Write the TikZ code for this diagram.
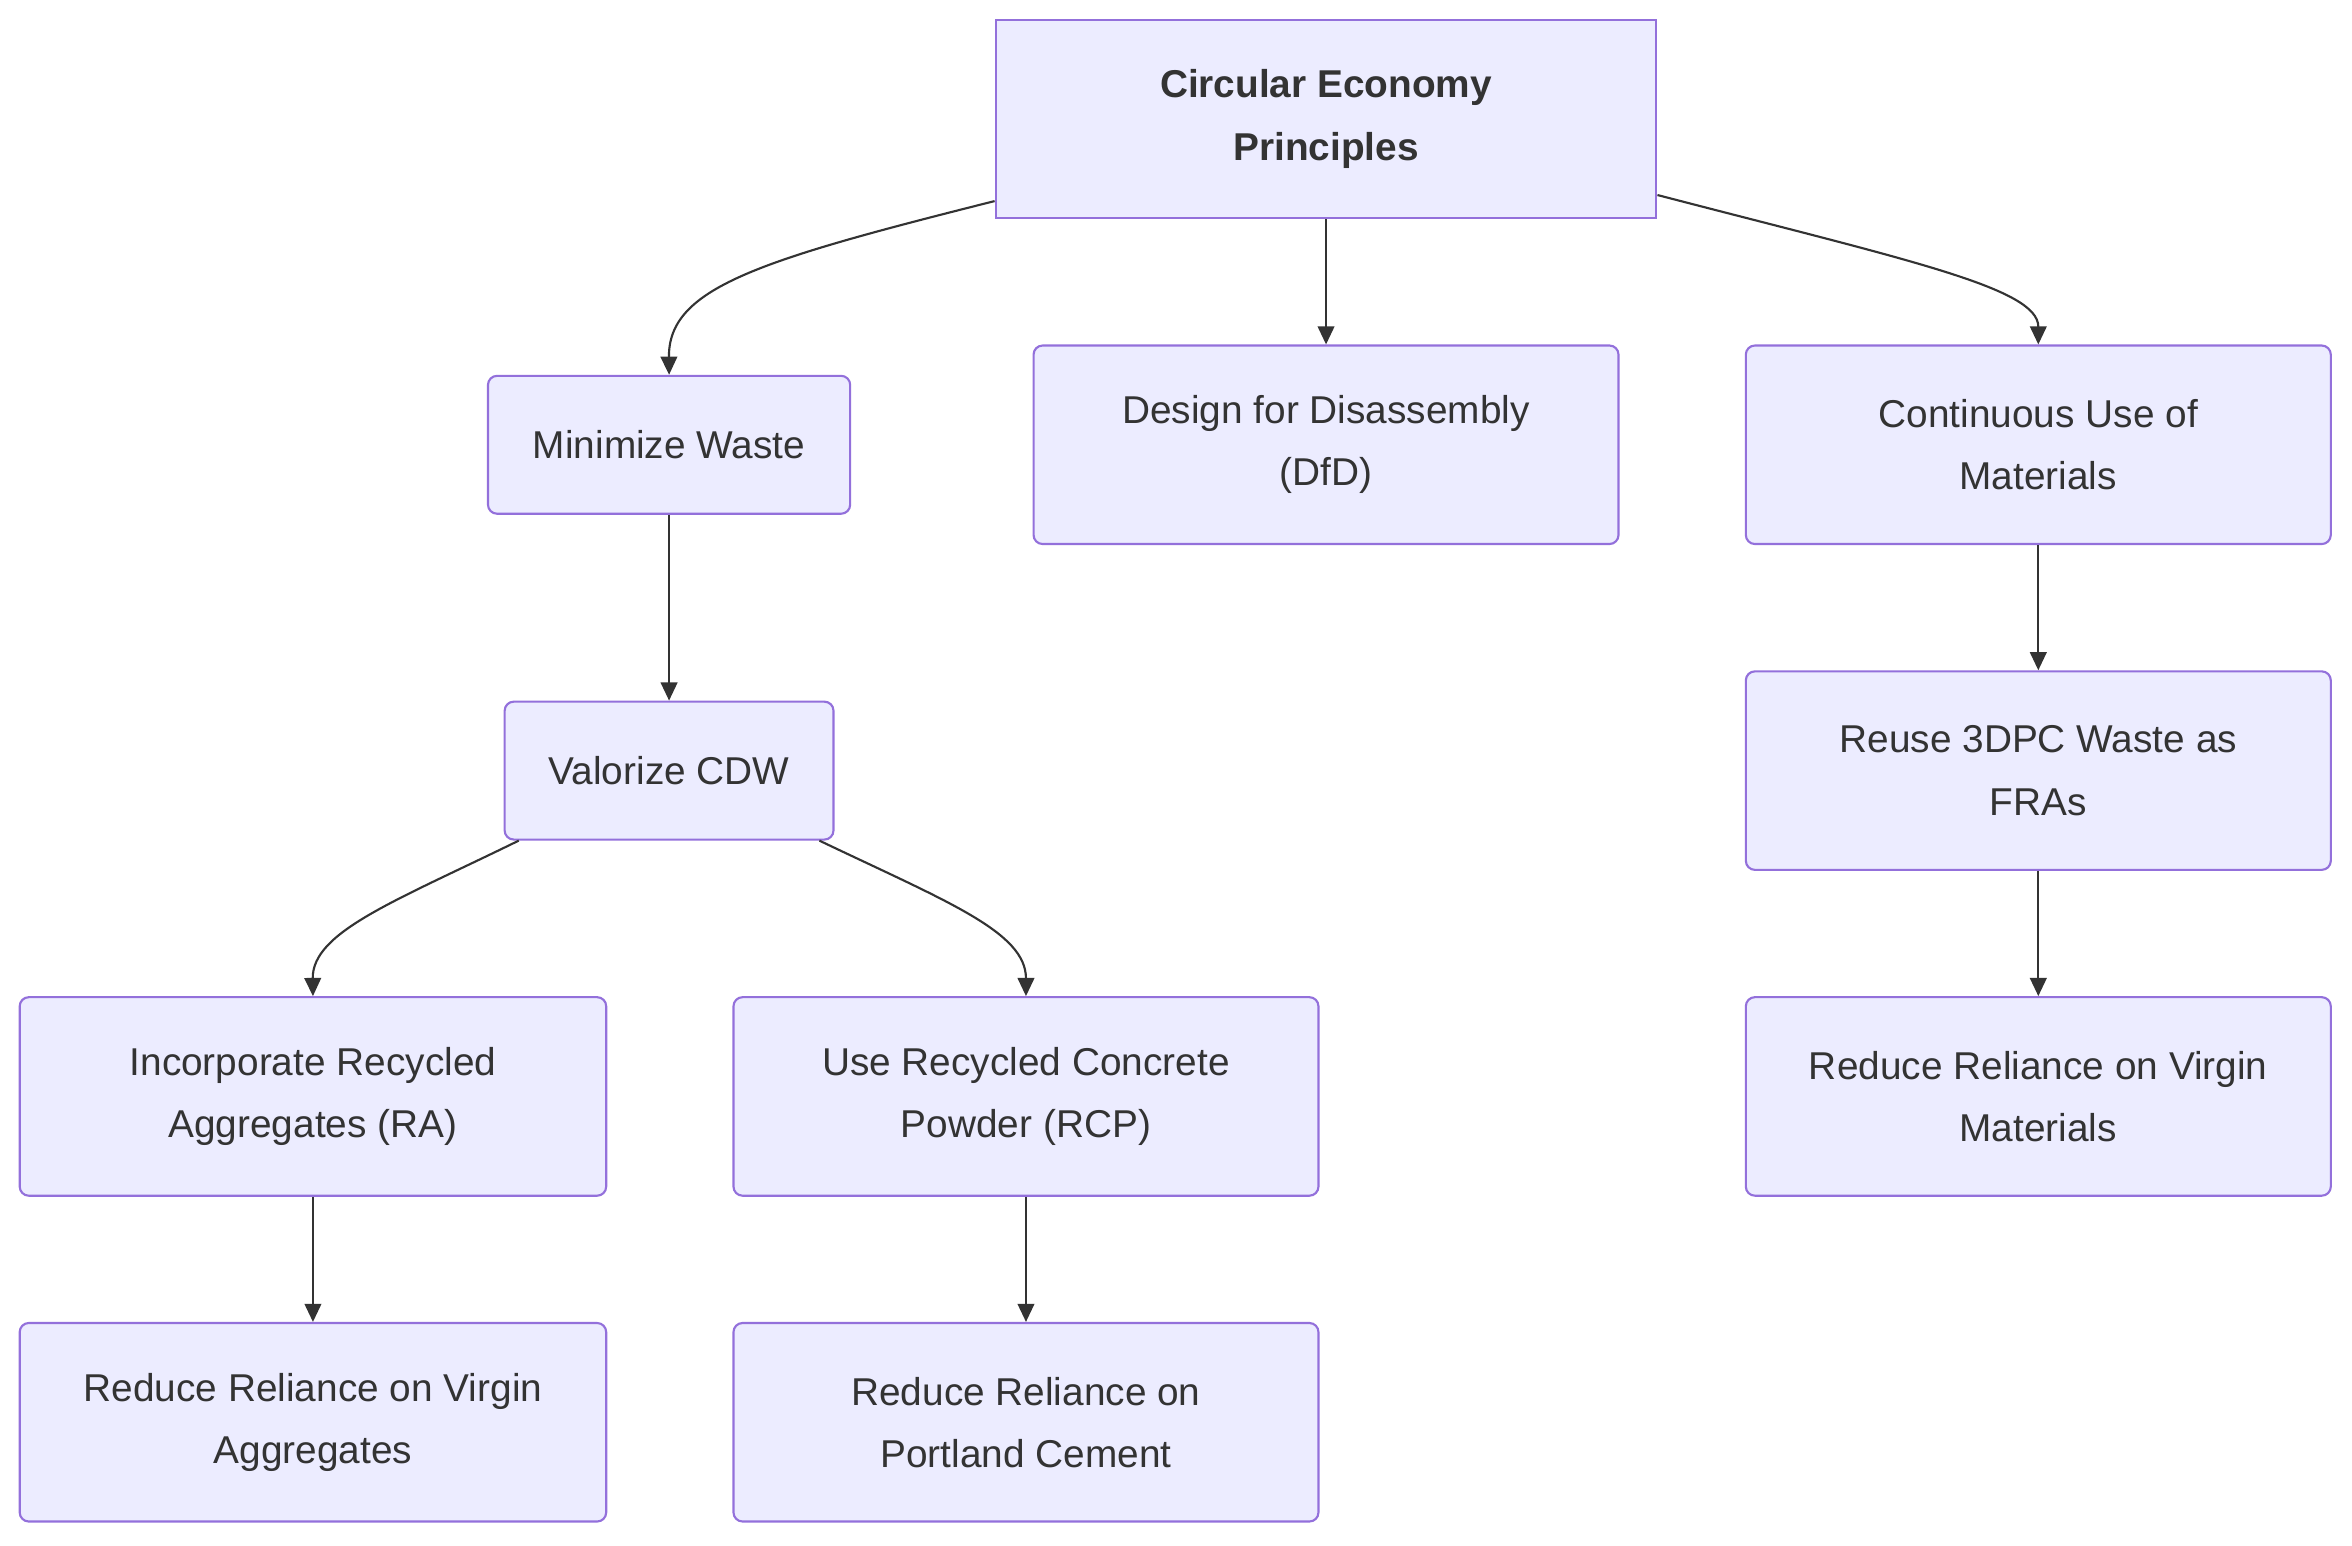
\documentclass[tikz,border=0pt]{standalone}
\usepackage{fontspec}
\setmainfont{Liberation Sans}
\usetikzlibrary{arrows.meta}
\definecolor{nfill}{HTML}{ECECFF}
\definecolor{nline}{HTML}{9370DB}
\definecolor{tcol}{HTML}{333333}
\begin{document}
\begin{tikzpicture}[x=0.5pt,y=-0.5pt,
  box/.style={draw=nline,fill=nfill,line width=0.7pt,rounded corners=3pt,text=tcol,align=center,font=\fontsize{12.8}{20.5}\selectfont,inner sep=0pt},
  arr/.style={draw=tcol,line width=0.7pt,-{Triangle[length=6pt,width=5.5pt]}}]
\useasboundingbox (0,0) rectangle (1552,1020);
\node[box,rounded corners=0pt,minimum width=218pt,minimum height=65.5pt,font=\bfseries\fontsize{12.8}{20.5}\selectfont] (top) at (875,78.5) {Circular Economy\\Principles};
\node[box,minimum width=119.5pt,minimum height=45.5pt] (mw) at (441.5,293.5) {Minimize Waste};
\node[box,minimum width=193pt,minimum height=65.5pt] (dfd) at (875,293.5) {Design for Disassembly\\(DfD)};
\node[box,minimum width=193pt,minimum height=65.5pt] (cu) at (1345,293.5) {Continuous Use of\\Materials};
\node[box,minimum width=108.5pt,minimum height=45.5pt] (vc) at (441.5,508.5) {Valorize CDW};
\node[box,minimum width=193pt,minimum height=65.5pt] (ru) at (1345,508.5) {Reuse 3DPC Waste as\\FRAs};
\node[box,minimum width=193.5pt,minimum height=65.5pt] (ra) at (206.5,723.5) {Incorporate Recycled\\Aggregates (RA)};
\node[box,minimum width=193pt,minimum height=65.5pt] (rcp) at (677,723.5) {Use Recycled Concrete\\Powder (RCP)};
\node[box,minimum width=193pt,minimum height=65.5pt] (rvm) at (1345,723.5) {Reduce Reliance on Virgin\\Materials};
\node[box,minimum width=193.5pt,minimum height=65.5pt] (rva) at (206.5,938.5) {Reduce Reliance on Virgin\\Aggregates};
\node[box,minimum width=193pt,minimum height=65.5pt] (rpc) at (677,938.5) {Reduce Reliance on\\Portland Cement};
\draw[arr] ([yshift=6pt]top.south west) .. controls (500,172) and (441,190) .. (mw.north);
\draw[arr] ([yshift=8pt]top.south east) .. controls (1260,172) and (1345,190) .. (cu.north);
\draw[arr] (top) -- (dfd);
\draw[arr] (mw) -- (vc);
\draw[arr] (cu) -- (ru);
\draw[arr] (ru) -- (rvm);
\draw[arr] ([xshift=5pt]vc.south west) .. controls (260,595) and (206,615) .. (ra.north);
\draw[arr] ([xshift=-5pt]vc.south east) .. controls (625,595) and (677,615) .. (rcp.north);
\draw[arr] (ra) -- (rva);
\draw[arr] (rcp) -- (rpc);
\end{tikzpicture}
\end{document}
